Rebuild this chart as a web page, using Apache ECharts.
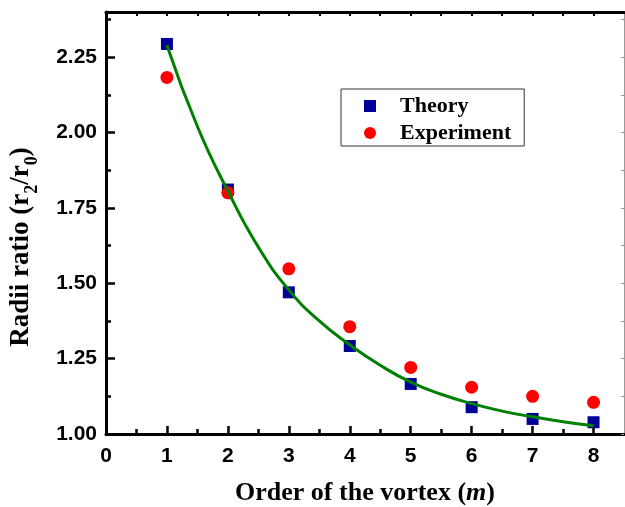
<!DOCTYPE html>
<html><head><meta charset="utf-8">
<script src="https://cdn.jsdelivr.net/npm/echarts@6/dist/echarts.min.js"></script>
<style>html,body{margin:0;padding:0;background:#fff}#c{width:625px;height:507px}</style>
</head><body><div id="c"></div>
<script>
const orders = [1, 2, 3, 4, 5, 6, 7, 8];
const theory = [2.294, 1.811, 1.470, 1.292, 1.166, 1.089, 1.050, 1.039];
const experiment = [2.183, 1.800, 1.548, 1.356, 1.221, 1.155, 1.125, 1.105];
const fitX = [1, 1.5, 2, 2.5, 3, 3.5, 4, 4.5, 5, 5.5, 6, 6.5, 7, 7.5, 8];
const fitY = [2.29, 2.02, 1.806, 1.62, 1.478, 1.375, 1.296, 1.228, 1.172, 1.132, 1.101, 1.076, 1.057, 1.041, 1.027];
const xMajorTicks = [0, 1, 2, 3, 4, 5, 6, 7, 8];
const xMinorTicks = [0.5, 1.5, 2.5, 3.5, 4.5, 5.5, 6.5, 7.5];
const yMajorTicks = [1.00, 1.25, 1.50, 1.75, 2.00, 2.25];
const yMinorTicks = [1.125, 1.375, 1.625, 1.875, 2.125, 2.375];

const chart = echarts.init(document.getElementById('c'));
const serif = '"Liberation Serif", "Times New Roman", serif';
const sans = '"Liberation Sans", Arial, sans-serif';
const X_MIN = 0, X_MAX = 8.5, Y_MIN = 1.0, Y_MAX = 2.4;

function xAx(extra) {
  return Object.assign({type: 'value', min: X_MIN, max: X_MAX, splitLine: {show: false},
    axisLabel: {show: false}, axisTick: {show: false}, axisLine: {show: false}}, extra);
}
function yAx(extra) {
  return Object.assign({type: 'value', min: Y_MIN, max: Y_MAX, splitLine: {show: false},
    axisLabel: {show: false}, axisTick: {show: false}, axisLine: {show: false}}, extra);
}

chart.setOption({
  animation: false,
  backgroundColor: '#fff',
  grid: {left: 106, right: 1, top: 12, bottom: 73, containLabel: false, outerBoundsMode: 'none'},
  xAxis: [
    xAx({position: 'bottom',
      axisLine: {show: true, onZero: false, lineStyle: {color: '#000', width: 3}},
      axisTick: {show: true, inside: true, length: 8, customValues: xMajorTicks, lineStyle: {color: '#000', width: 2.5}},
      axisLabel: {show: true, customValues: xMajorTicks, margin: 12, color: '#000', fontFamily: sans, fontWeight: 'bold', fontSize: 21},
      name: '{a|Order of the vortex (}{i|m}{a|)}', nameLocation: 'middle', nameGap: 46,
      nameTextStyle: {rich: {
        a: {fontFamily: serif, fontWeight: 'bold', fontSize: 26, color: '#000'},
        i: {fontFamily: serif, fontWeight: 'bold', fontStyle: 'italic', fontSize: 26, color: '#000'}
      }}
    }),
    xAx({position: 'bottom',
      axisTick: {show: true, inside: true, length: 5, customValues: xMinorTicks, lineStyle: {color: '#000', width: 2.5}}
    }),
    xAx({position: 'top',
      axisLine: {show: true, onZero: false, lineStyle: {color: '#000', width: 3}},
      axisTick: {show: true, inside: true, length: 4, customValues: xMajorTicks.concat(xMinorTicks), lineStyle: {color: '#000', width: 2}}
    })
  ],
  yAxis: [
    yAx({position: 'left',
      axisLine: {show: true, onZero: false, lineStyle: {color: '#000', width: 3}},
      axisTick: {show: true, inside: true, length: 9, customValues: yMajorTicks, lineStyle: {color: '#000', width: 2.5}},
      axisLabel: {show: true, customValues: yMajorTicks, margin: 9, color: '#000', fontFamily: sans, fontWeight: 'bold', fontSize: 21,
        formatter: v => v.toFixed(2)},
      name: '{a|Radii ratio (r}{s|2}{a|/r}{s|0}{a|)}', nameLocation: 'middle', nameGap: 65,
      nameTextStyle: {padding: [0, 48, 0, 0], rich: {
        a: {fontFamily: serif, fontWeight: 'bold', fontSize: 27, color: '#000', lineHeight: 40, verticalAlign: 'middle'},
        s: {fontFamily: serif, fontWeight: 'bold', fontSize: 18, color: '#000', lineHeight: 17, verticalAlign: 'bottom'}
      }}
    }),
    yAx({position: 'left',
      axisTick: {show: true, inside: true, length: 5, customValues: yMinorTicks, lineStyle: {color: '#000', width: 2.5}}
    }),
    yAx({position: 'right',
      axisLine: {show: true, onZero: false, lineStyle: {color: '#999', width: 1}},
      axisTick: {show: true, inside: true, length: 3, customValues: yMajorTicks.concat(yMinorTicks), lineStyle: {color: '#999', width: 1}}
    })
  ],
  legend: {
    orient: 'vertical', left: 341, top: 89,
    padding: [6, 13, 2, 23], itemGap: 5,
    itemWidth: 12, itemHeight: 12,
    borderColor: '#333', borderWidth: 1,
    data: ['Theory', 'Experiment'],
    textStyle: {fontFamily: serif, fontWeight: 'bold', fontSize: 22, color: '#000', lineHeight: 22, padding: [0, 0, 0, 19]}
  },
  series: [
    {name: 'Theory', type: 'scatter', symbol: 'rect', symbolSize: 12, symbolKeepAspect: true,
      itemStyle: {color: '#000099', opacity: 1}, data: orders.map((m, i) => [m, theory[i]]), z: 2},
    {name: 'Experiment', type: 'scatter', symbol: 'circle', symbolSize: 13, symbolKeepAspect: true,
      itemStyle: {color: '#ff0000', opacity: 1}, data: orders.map((m, i) => [m, experiment[i]]), z: 3},
    {name: 'Fit', type: 'line', smooth: true, showSymbol: false, symbol: 'none',
      lineStyle: {color: '#008000', width: 3}, data: fitX.map((m, i) => [m, fitY[i]]), z: 4}
  ]
});
</script></body></html>
